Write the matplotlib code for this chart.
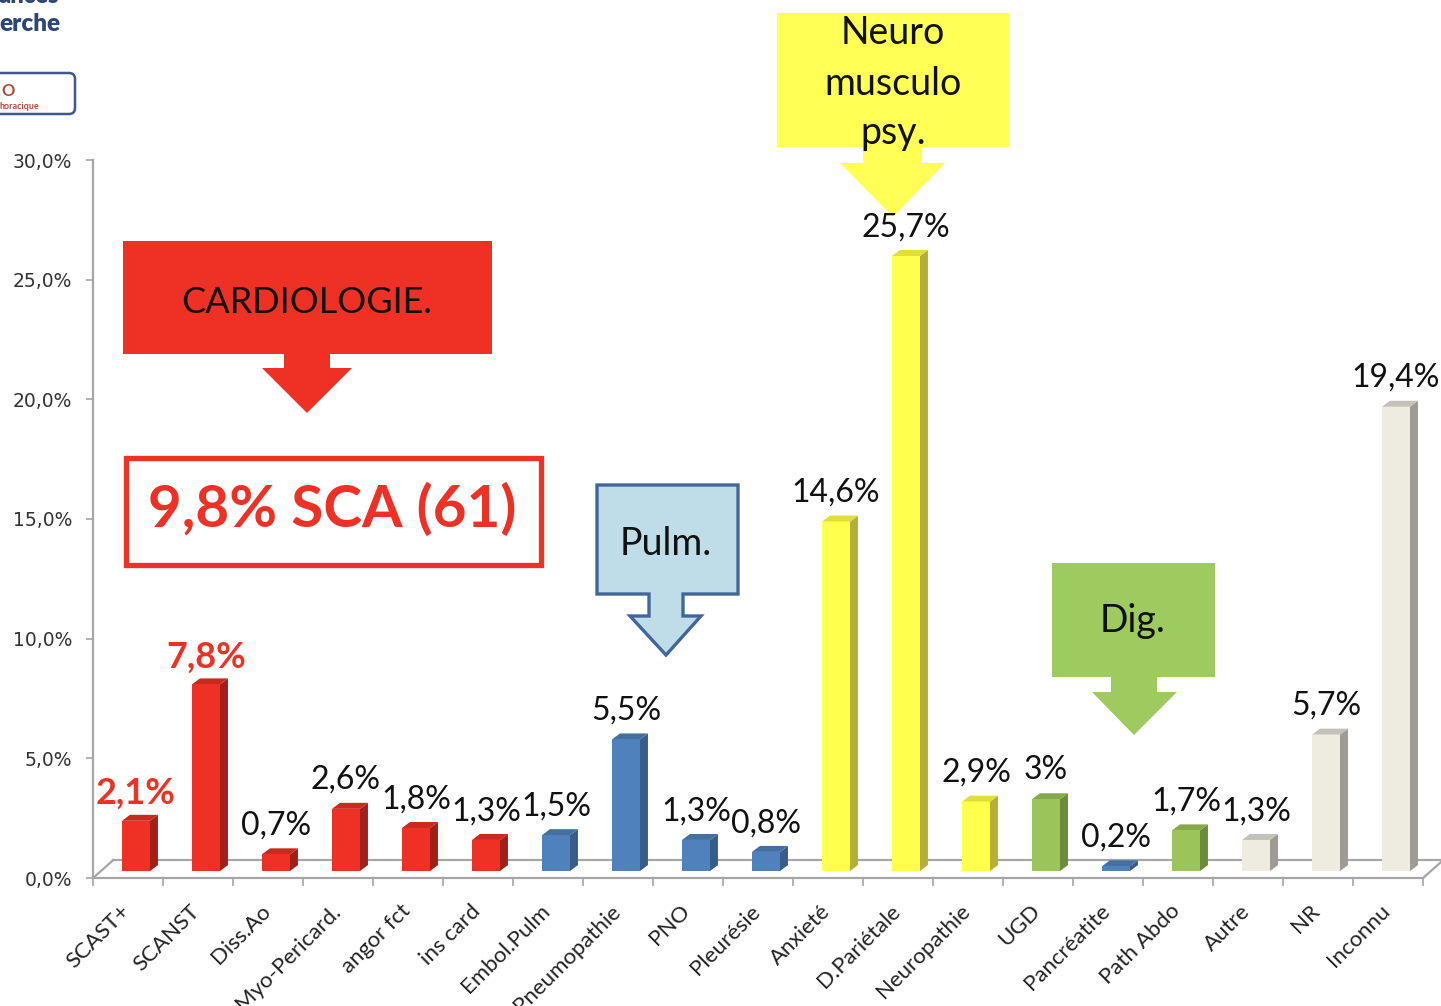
import matplotlib
matplotlib.use("Agg")
import matplotlib.pyplot as plt
from matplotlib.patches import Polygon, Rectangle, FancyBboxPatch
from matplotlib.transforms import ScaledTranslation

# ---------------- data ----------------
categories = ["SCAST+", "SCANST", "Diss.Ao", "Myo-Pericard.", "angor fct", "ins card",
              "Embol.Pulm", "Pneumopathie", "PNO", "Pleurésie", "Anxieté", "D.Pariétale",
              "Neuropathie", "UGD", "Pancréatite", "Path Abdo", "Autre", "NR", "Inconnu"]
values = [2.1, 7.8, 0.7, 2.6, 1.8, 1.3, 1.5, 5.5, 1.3, 0.8, 14.6, 25.7,
          2.9, 3.0, 0.2, 1.7, 1.3, 5.7, 19.4]
value_labels = ["2,1%", "7,8%", "0,7%", "2,6%", "1,8%", "1,3%", "1,5%", "5,5%", "1,3%", "0,8%",
                "14,6%", "25,7%", "2,9%", "3%", "0,2%", "1,7%", "1,3%", "5,7%", "19,4%"]
groups = ["card"] * 6 + ["pulm"] * 4 + ["neuro"] * 3 + ["dig", "pulm", "dig"] + ["other"] * 3
highlight = [True, True] + [False] * 17
yticks = [0, 5, 10, 15, 20, 25, 30]
ytick_labels = ["0,0%", "5,0%", "10,0%", "15,0%", "20,0%", "25,0%", "30,0%"]

palette = {
    "card":  ("#EE3124", "#A3201A", "#C92A1E"),
    "pulm":  ("#4F81BD", "#385D8A", "#44709F"),
    "neuro": ("#FFFF4D", "#B5B035", "#E0DE3A"),
    "dig":   ("#9BC55A", "#6B8C3A", "#84A84A"),
    "other": ("#EEECE1", "#9D9B93", "#C4C2B8"),
}

W, H = 1441, 1006
fig = plt.figure(figsize=(W / 100, H / 100), dpi=100)
fig.patch.set_facecolor("white")

# ---------------- overlay (shapes in pixel coordinates) ----------------
ov = fig.add_axes([0, 0, 1, 1], zorder=0)
ov.set_xlim(0, W)
ov.set_ylim(H, 0)
ov.axis("off")


def callout(L, T, R, B, sL, sR, sB, hL, hR, tip, fc, ec="none", lw=0):
    pts = [(L, T), (R, T), (R, B), (sR, B), (sR, sB), (hR, sB), tip,
           (hL, sB), (sL, sB), (sL, B), (L, B)]
    ov.add_patch(Polygon(pts, closed=True, facecolor=fc, edgecolor=ec, linewidth=lw,
                         joinstyle="miter", zorder=1))


FONT = "Lato"

# Cardiologie
callout(123, 241, 492, 354, 284, 330, 368, 262, 352, (307, 413), "#EE3124")
ov.text(307, 313, "CARDIOLOGIE.", fontsize=26, family=FONT, color="#111111",
        ha="center", va="baseline", zorder=3)

# 9,8% SCA box
ov.add_patch(Rectangle((125.5, 457.5), 415, 107, facecolor="white", edgecolor="#EE3124",
                       linewidth=3.8, zorder=1))
ov.text(332, 527, "9,8% SCA (61)", fontsize=42, family=FONT, fontweight="bold",
        color="#EE3124", ha="center", va="baseline", zorder=3)

# Pulm
callout(597, 485, 738, 594, 649, 683, 616, 630, 701, (666, 655), "#BEDDE8",
        ec="#41679A", lw=2.4)
ov.text(666, 555, "Pulm.", fontsize=27, family=FONT, color="#111111",
        ha="center", va="baseline", zorder=3)

# Neuro musculo psy.
callout(777, 13, 1009, 147, 863, 922, 163, 840, 945, (893, 217), "#FFFF55")
for txt, yb in [("Neuro", 44), ("musculo", 95), ("psy.", 144)]:
    ov.text(893, yb, txt, fontsize=27, family=FONT, color="#111111",
            ha="center", va="baseline", zorder=3)

# Dig.
callout(1052, 563, 1215, 677, 1111, 1157, 692, 1092, 1177, (1134, 735), "#9DCB5F")
ov.text(1133, 632, "Dig.", fontsize=27, family=FONT, color="#111111",
        ha="center", va="baseline", zorder=3)

# logo fragment top-left
ov.text(-1, 3, "ances", fontsize=17, family=FONT, fontweight="heavy", color="#2E4677",
        ha="left", va="baseline", zorder=3)
ov.text(-1, 31, "erche", fontsize=17.5, family=FONT, fontweight="heavy", color="#2E4677",
        ha="left", va="baseline", zorder=3)
ov.add_patch(FancyBboxPatch((-20, 73), 95, 41, boxstyle="round,pad=0,rounding_size=6",
                            facecolor="white", edgecolor="#3D5A8A", linewidth=1.8, zorder=1))
ov.text(1, 96, "O", fontsize=12, family=FONT, fontweight="bold", color="#B24A3C",
        ha="left", va="baseline", zorder=3)
ov.text(0, 109, "horacique", fontsize=6.5, family=FONT, fontweight="bold", color="#B24A3C",
        ha="left", va="baseline", zorder=3)

# ---------------- main chart ----------------
x0, x1 = 93, 1423
y0, y1 = 878, 160
ax = fig.add_axes([x0 / W, 1 - y0 / H, (x1 - x0) / W, (y0 - y1) / H], zorder=1)
ax.set_facecolor("none")
n = len(categories)
ax.set_xlim(-0.5, n - 0.5)
ax.set_ylim(0, 30)

grey = "#A6A6A6"
dxf, dyf = 0.29, 0.75   # floor depth
# floor
ax.plot([-0.5, n - 0.5], [0, 0], color=grey, lw=1.6, clip_on=False, zorder=1)
ax.plot([-0.5 + dxf, n - 0.5 + dxf + 0.3], [dyf, dyf], color=grey, lw=1.6, clip_on=False, zorder=1)
ax.plot([-0.5, -0.5 + dxf], [0, dyf], color=grey, lw=1.6, clip_on=False, zorder=1)
ax.plot([n - 0.5, n - 0.5 + dxf], [0, dyf], color=grey, lw=1.6, clip_on=False, zorder=1)

# bars (front faces)
base = 0.29
bw = 0.4
off = -0.086
dx, dy = 0.114, 0.25
xs = [i + off for i in range(n)]
fronts = [palette[g][0] for g in groups]
ax.bar(xs, values, width=bw, bottom=base, align="edge", color=fronts, linewidth=0, zorder=3)
for i, (v, g) in enumerate(zip(values, groups)):
    xl = xs[i]
    xr = xl + bw
    t = base + v
    ax.add_patch(Polygon([(xr, base), (xr + dx, base + dy), (xr + dx, t + dy), (xr, t)],
                         closed=True, facecolor=palette[g][1], edgecolor="none", zorder=2.9))
    ax.add_patch(Polygon([(xl, t), (xl + dx, t + dy), (xr + dx, t + dy), (xr, t)],
                         closed=True, facecolor=palette[g][2], edgecolor="none", zorder=2.9))
    if highlight[i]:
        ax.text(xl + bw / 2, v + 1.0, value_labels[i], fontsize=26, family=FONT,
                fontweight="bold", color="#EE3124", ha="center", va="baseline", zorder=4)
    else:
        ax.text(xl + bw / 2, v + 1.12, value_labels[i], fontsize=23, family=FONT,
                color="#111111", ha="center", va="baseline", zorder=4)

# spines
for s in ["top", "right", "bottom"]:
    ax.spines[s].set_visible(False)
ax.spines["left"].set_color(grey)
ax.spines["left"].set_linewidth(1.6)

# y ticks
ax.set_yticks(yticks)
ax.set_yticklabels(ytick_labels)
ax.tick_params(axis="y", direction="out", length=5, width=1.2, color=grey, pad=10,
               labelsize=13.5, labelcolor="#333333")
for lab in ax.get_yticklabels():
    lab.set_family("DejaVu Sans")

# x ticks: marks at boundaries, labels at centres
ax.set_xticks([i - 0.5 for i in range(n + 1)])
ax.set_xticklabels([])
ax.tick_params(axis="x", which="major", direction="out", length=6, width=1.2, color=grey)
ax.set_xticks(list(range(n)), minor=True)
ax.set_xticklabels(categories, minor=True)
ax.tick_params(axis="x", which="minor", length=0, pad=0, labelsize=16, labelcolor="#222222")
shift = ScaledTranslation(-1 / 100, -30 / 100, fig.dpi_scale_trans)
for lab in ax.get_xticklabels(minor=True):
    lab.set_rotation(45)
    lab.set_ha("right")
    lab.set_va("center")
    lab.set_rotation_mode("anchor")
    lab.set_family(FONT)
    lab.set_transform(lab.get_transform() + shift)

fig.savefig("out.png", dpi=100, facecolor="white")
